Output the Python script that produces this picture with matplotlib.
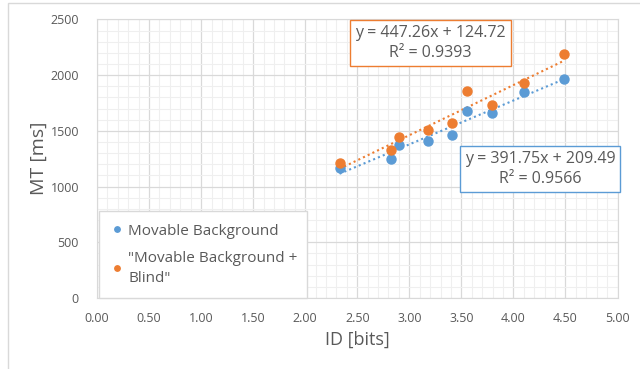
import numpy as np
import matplotlib.pyplot as plt
from matplotlib.patches import Rectangle
from matplotlib.ticker import MultipleLocator, FormatStrFormatter

# ID [bits] per condition, MT [ms]
id_bits = [2.33, 2.82, 2.90, 3.18, 3.41, 3.55, 3.79, 4.10, 4.49]
mt_movable = [1167, 1250, 1373, 1407, 1460, 1681, 1661, 1852, 1966]
mt_blind = [1209, 1329, 1443, 1505, 1568, 1858, 1730, 1927, 2188]

labels = ['Movable Background', '"Movable Background +\nBlind"']
eq_movable = 'y = 391.75x + 209.49\nR² = 0.9566'
eq_blind = 'y = 447.26x + 124.72\nR² = 0.9393'

blue = '#5B9BD5'
orange = '#ED7D31'
grey_text = '#595959'

plt.rcParams['font.family'] = ['Open Sans', 'DejaVu Sans']

fig = plt.figure(figsize=(6.4, 3.69), dpi=100)
ax = fig.add_axes([97 / 640, 71 / 369, 520.5 / 640, 278.5 / 369])

# outer chart border
fig.patches.append(Rectangle((8 / 640, -0.05), 1.0, 1.05 - 3 / 369, transform=fig.transFigure,
                             fill=False, edgecolor='#D9D9D9', linewidth=1.0))

ax.set_xlim(0, 5)
ax.set_ylim(0, 2500)
ax.xaxis.set_major_locator(MultipleLocator(0.5))
ax.xaxis.set_minor_locator(MultipleLocator(0.1))
ax.yaxis.set_major_locator(MultipleLocator(500))
ax.yaxis.set_minor_locator(MultipleLocator(100))
ax.xaxis.set_major_formatter(FormatStrFormatter('%.2f'))

ax.grid(which='major', color='#D9D9D9', linewidth=0.9)
ax.grid(which='minor', color='#EFEFEF', linewidth=0.8)
ax.set_axisbelow(True)
for s in ax.spines.values():
    s.set_color('#D9D9D9')
ax.tick_params(which='both', length=0, colors=grey_text, labelsize=9)
ax.tick_params(axis='x', pad=10)
ax.tick_params(axis='y', pad=13)

x = np.array(id_bits)
for ys, col, lab in [(mt_movable, blue, labels[0]), (mt_blind, orange, labels[1])]:
    k, b = np.polyfit(x, ys, 1)
    xs = np.array([x.min(), x.max()])
    ax.plot(xs, k * xs + b, linestyle=(0, (1, 1.5)), color=col, linewidth=1.5, zorder=2)
    ax.plot(x, ys, 'o', color=col, markersize=6.5, markeredgecolor=col, label=lab, zorder=3)

ax.text(4.255, 1158, eq_movable, ha='center', va='center', fontsize=11.5, color=grey_text,
        linespacing=1.3,
        bbox=dict(boxstyle='square,pad=0.32', facecolor='white', edgecolor=blue, linewidth=1.0))
ax.text(3.20, 2289, eq_blind, ha='center', va='center', fontsize=11.5, color=grey_text,
        linespacing=1.3,
        bbox=dict(boxstyle='square,pad=0.32', facecolor='white', edgecolor=orange, linewidth=1.0))

leg = ax.legend(loc='lower left', bbox_to_anchor=(0.004, 0.0, 0.40, 0.334), mode='expand',
                borderaxespad=0, fancybox=False, framealpha=1, edgecolor='#D9D9D9', fontsize=11,
                labelcolor=grey_text, markerscale=0.6, handlelength=0.7, handletextpad=0.4,
                borderpad=0.8, labelspacing=0.8)
for t in leg.get_texts():
    t.set_linespacing(1.45)
leg.get_frame().set_linewidth(1.0)
leg.set_zorder(5)

ax.set_xlabel('ID [bits]', fontsize=13, color=grey_text, labelpad=4)
ax.set_ylabel('MT [ms]', fontsize=14, color=grey_text, labelpad=2)

fig.savefig('out.png', dpi=100)
